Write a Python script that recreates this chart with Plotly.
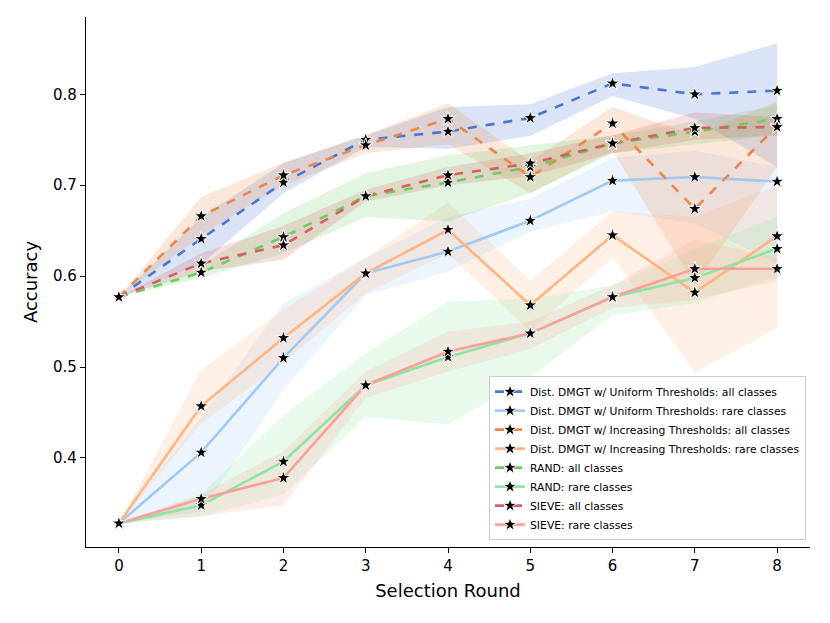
import plotly.graph_objects as go

rounds = [0, 1, 2, 3, 4, 5, 6, 7, 8]

names = [
    "Dist. DMGT w/ Uniform Thresholds: all classes",
    "Dist. DMGT w/ Uniform Thresholds: rare classes",
    "Dist. DMGT w/ Increasing Thresholds: all classes",
    "Dist. DMGT w/ Increasing Thresholds: rare classes",
    "RAND: all classes",
    "RAND: rare classes",
    "SIEVE: all classes",
    "SIEVE: rare classes",
]

# mean accuracy per round
uni_all = [0.577, 0.641, 0.703, 0.750, 0.759, 0.774, 0.812, 0.800, 0.804]
uni_rare = [0.328, 0.406, 0.510, 0.603, 0.627, 0.661, 0.705, 0.709, 0.704]
inc_all = [0.577, 0.666, 0.711, 0.744, 0.773, 0.709, 0.768, 0.674, 0.765]
inc_rare = [0.328, 0.457, 0.532, 0.603, 0.651, 0.568, 0.645, 0.582, 0.644]
rand_all = [0.577, 0.604, 0.643, 0.688, 0.703, 0.720, 0.746, 0.759, 0.773]
rand_rare = [0.328, 0.348, 0.396, 0.480, 0.511, 0.537, 0.577, 0.598, 0.630]
sieve_all = [0.577, 0.614, 0.634, 0.688, 0.711, 0.724, 0.746, 0.763, 0.764]
sieve_rare = [0.328, 0.355, 0.378, 0.480, 0.517, 0.537, 0.577, 0.608, 0.608]

# confidence band (upper / lower)
uni_all_hi = [0.577, 0.665, 0.724, 0.755, 0.786, 0.789, 0.823, 0.830, 0.856]
uni_all_lo = [0.577, 0.613, 0.691, 0.742, 0.740, 0.754, 0.798, 0.773, 0.720]
uni_rare_hi = [0.328, 0.445, 0.570, 0.620, 0.665, 0.685, 0.730, 0.738, 0.720]
uni_rare_lo = [0.328, 0.341, 0.475, 0.579, 0.605, 0.649, 0.671, 0.658, 0.614]
inc_all_hi = [0.577, 0.687, 0.725, 0.755, 0.790, 0.726, 0.786, 0.755, 0.792]
inc_all_lo = [0.577, 0.645, 0.700, 0.735, 0.745, 0.691, 0.738, 0.590, 0.720]
inc_rare_hi = [0.328, 0.497, 0.563, 0.620, 0.681, 0.595, 0.671, 0.665, 0.700]
inc_rare_lo = [0.328, 0.438, 0.505, 0.581, 0.625, 0.539, 0.621, 0.494, 0.543]
rand_all_hi = [0.577, 0.612, 0.669, 0.713, 0.733, 0.744, 0.755, 0.770, 0.788]
rand_all_lo = [0.577, 0.598, 0.625, 0.665, 0.660, 0.691, 0.735, 0.745, 0.755]
rand_rare_hi = [0.328, 0.360, 0.447, 0.515, 0.572, 0.575, 0.590, 0.630, 0.665]
rand_rare_lo = [0.328, 0.335, 0.360, 0.445, 0.437, 0.489, 0.557, 0.570, 0.600]
sieve_all_hi = [0.577, 0.625, 0.655, 0.695, 0.720, 0.735, 0.755, 0.780, 0.775]
sieve_all_lo = [0.577, 0.605, 0.618, 0.682, 0.700, 0.710, 0.735, 0.750, 0.755]
sieve_rare_hi = [0.328, 0.360, 0.407, 0.495, 0.539, 0.550, 0.590, 0.640, 0.620]
sieve_rare_lo = [0.328, 0.336, 0.348, 0.466, 0.495, 0.520, 0.565, 0.574, 0.595]

means = [uni_all, uni_rare, inc_all, inc_rare, rand_all, rand_rare, sieve_all, sieve_rare]
highs = [uni_all_hi, uni_rare_hi, inc_all_hi, inc_rare_hi, rand_all_hi, rand_rare_hi, sieve_all_hi, sieve_rare_hi]
lows = [uni_all_lo, uni_rare_lo, inc_all_lo, inc_rare_lo, rand_all_lo, rand_rare_lo, sieve_all_lo, sieve_rare_lo]

colors = ["#4878d0", "#a1c9f4", "#ee854a", "#ffb482", "#6acc64", "#8de5a1", "#d65f5f", "#ff9f9b"]
bands = ["rgba(72,120,208,0.2)", "rgba(161,201,244,0.2)", "rgba(238,133,74,0.2)", "rgba(255,180,130,0.2)",
         "rgba(106,204,100,0.2)", "rgba(141,229,161,0.2)", "rgba(214,95,95,0.2)", "rgba(255,159,155,0.2)"]
dashes = ["dash", "solid"] * 4

fig = go.Figure()

# bands first
for i in range(8):
    fig.add_trace(go.Scatter(x=rounds, y=highs[i], mode="lines", line=dict(width=0),
                             showlegend=False, hoverinfo="skip"))
    fig.add_trace(go.Scatter(x=rounds, y=lows[i], mode="lines", line=dict(width=0),
                             fill="tonexty", fillcolor=bands[i],
                             showlegend=False, hoverinfo="skip"))

for i in range(8):
    fig.add_trace(go.Scatter(
        x=rounds, y=means[i], name=names[i], mode="lines+markers",
        line=dict(color=colors[i], width=2.6, dash=dashes[i]),
        marker=dict(symbol="star", size=10.5, color="black", line=dict(color="white", width=1)),
    ))

# page body adds ~8px offset, so margins are trimmed accordingly
fig.update_layout(
    width=830, height=623,
    margin=dict(l=78, r=28, t=9, b=84),
    plot_bgcolor="white", paper_bgcolor="white",
    font=dict(family="DejaVu Sans", size=15, color="black"),
    legend=dict(x=0.9945, y=0.013, xanchor="right", yanchor="bottom", traceorder="normal",
                bgcolor="rgba(255,255,255,0.8)", bordercolor="#cccccc", borderwidth=1,
                font=dict(size=10.8), tracegroupgap=0, itemwidth=30),
)
fig.update_xaxes(
    range=[-0.4, 8.4], tickvals=rounds, showgrid=False, zeroline=False, automargin=False,
    showline=True, linecolor="black", linewidth=1.3, ticks="outside", ticklen=5,
    tickcolor="black", title=dict(text="Selection Round", standoff=10),
)
fig.update_yaxes(
    range=[0.302, 0.885], tickvals=[0.4, 0.5, 0.6, 0.7, 0.8], tickformat=".1f", automargin=False,
    showgrid=False, zeroline=False, showline=True, linecolor="black", linewidth=1.3,
    ticks="outside", ticklen=5, tickcolor="black", title=dict(text="Accuracy", standoff=10),
)

fig.write_html("out.html")
